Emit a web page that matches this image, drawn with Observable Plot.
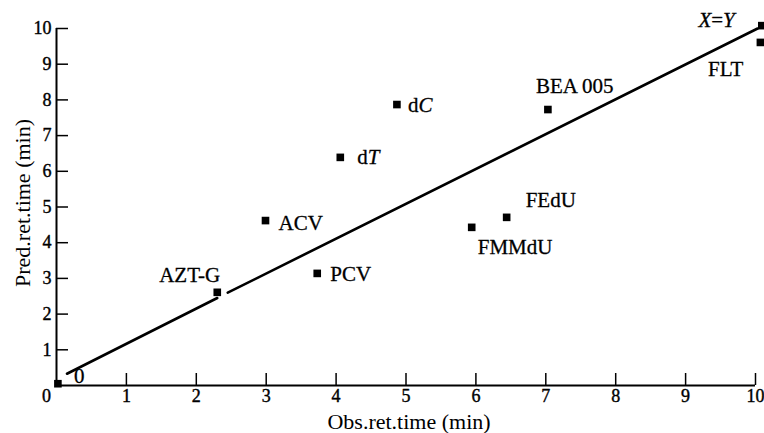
<!DOCTYPE html>
<html>
<head>
<meta charset="utf-8">
<script src="https://cdn.jsdelivr.net/npm/d3@7"></script>
<script src="https://cdn.jsdelivr.net/npm/@observablehq/plot@0.6"></script>
<style>
  html, body { margin: 0; padding: 0; background: #fff; }
  #chart { width: 764px; height: 433px; }
  #chart svg text { font-family: "Liberation Serif", "Times New Roman", serif; }
</style>
</head>
<body>
<div id="chart"></div>
<script>
// ---- data ----
const names     = ["0", "AZT-G", "ACV", "PCV", "dT", "dC", "FMMdU", "FEdU", "BEA 005", "X=Y", "FLT"];
const obsTime   = [0.02, 2.30, 2.99, 3.73, 4.06, 4.87, 5.94, 6.44, 7.03, 10.09, 10.07];
const predTime  = [0.05, 2.61, 4.62, 3.14, 6.39, 7.87, 4.43, 4.71, 7.73, 10.08, 9.61];

// X = Y reference line (drawn with a small gap near AZT-G)
const lineSeg = ["a", "a", "b", "b"];
const lineX   = [0.15, 2.30, 2.45, 10.03];
const lineY   = [0.33, 2.45, 2.60, 10.00];

const xTicks = [0, 1, 2, 3, 4, 5, 6, 7, 8, 9, 10];
const yTicks = [1, 2, 3, 4, 5, 6, 7, 8, 9, 10];
const xLabel = "Obs.ret.time (min)";
const yLabel = "Pred.ret.time (min)";

// ---- label placement (styling, pixels) ----
const placement = {
  "0":       {dx: 16, dy: -7,  anchor: "start"},
  "AZT-G":   {dx: 3,  dy: -17, anchor: "end"},
  "ACV":     {dx: 13, dy: 3,   anchor: "start"},
  "PCV":     {dx: 13, dy: 1,   anchor: "start"},
  "dT":      {dx: 17, dy: 0,   anchor: "start"},
  "dC":      {dx: 11, dy: 1,   anchor: "start"},
  "FMMdU":   {dx: 6,  dy: 20,  anchor: "start"},
  "FEdU":    {dx: 19, dy: -17, anchor: "start"},
  "BEA 005": {dx: -12, dy: -23, anchor: "start"},
  "X=Y":     {dx: -27, dy: -5, anchor: "end"},
  "FLT":     {dx: -17, dy: 27, anchor: "end"}
};

const idx = names.map((_, i) => i);
const lineIdx = lineSeg.map((_, i) => i);
const FONT = "Liberation Serif";

const labelMarks = idx.map(i => {
  const p = placement[names[i]];
  return Plot.text([i], {
    x: j => obsTime[j], y: j => predTime[j], text: j => names[j],
    dx: p.dx, dy: p.dy, textAnchor: p.anchor, fontFamily: FONT,
    fontSize: 21, fill: "black", stroke: "black", strokeWidth: 0.3
  });
});

const plot = Plot.plot({
  width: 764,
  height: 433,
  marginLeft: 56,
  marginRight: 9,
  marginTop: 28,
  marginBottom: 48,
  style: {fontFamily: FONT, fontSize: "18px", background: "#fff", color: "black", overflow: "hidden"},
  x: {domain: [0, 10], label: null},
  y: {domain: [0, 10], label: null},
  marks: [
    Plot.axisX({ticks: xTicks.filter(d => d > 0), tickSize: -12, tickPadding: 16, strokeWidth: 1.5,
                fontSize: 18, fontFamily: FONT, label: null, tickFormat: d => String(d),
                textStroke: "black", textStrokeWidth: 0.4}),
    Plot.axisX({ticks: [0], tickSize: 0, tickPadding: 4, dx: -10, fontSize: 18, fontFamily: FONT,
                label: null, tickFormat: d => String(d), textStroke: "black", textStrokeWidth: 0.4}),
    Plot.axisY({ticks: yTicks, tickSize: -12, tickPadding: 17, strokeWidth: 1.5,
                fontSize: 18, fontFamily: FONT, label: null, tickFormat: d => String(d),
                textStroke: "black", textStrokeWidth: 0.4}),
    Plot.ruleY([0], {stroke: "black", strokeWidth: 2}),
    Plot.ruleX([0], {stroke: "black", strokeWidth: 2}),
    Plot.line(lineIdx, {x: i => lineX[i], y: i => lineY[i], z: i => lineSeg[i],
                        stroke: "black", strokeWidth: 2.6}),
    Plot.dot(idx, {x: i => obsTime[i], y: i => predTime[i], symbol: "square",
                   r: 4.3, fill: "black", stroke: null}),
    ...labelMarks,
    Plot.text([xLabel], {frameAnchor: "bottom", lineAnchor: "middle", textAnchor: "middle",
                         dy: 36, dx: 3, fontSize: 22, fontFamily: FONT, fill: "black"}),
    Plot.text([yLabel], {frameAnchor: "left", lineAnchor: "middle", textAnchor: "middle",
                         dx: -34, dy: -4, rotate: -90, fontSize: 22, fontFamily: FONT, fill: "black"})
  ]
});

// italic parts of some labels
const italicMap = {"dC": [["d", false], ["C", true]], "dT": [["d", false], ["T", true]], "X=Y": [["X", true], ["=", false], ["Y", true]]};
plot.querySelectorAll("text").forEach(t => {
  const parts = italicMap[t.textContent];
  if (!parts) return;
  t.textContent = "";
  for (const [s, it] of parts) {
    const ts = document.createElementNS("http://www.w3.org/2000/svg", "tspan");
    ts.textContent = s;
    if (it) ts.setAttribute("font-style", "italic");
    t.appendChild(ts);
  }
});

document.getElementById("chart").appendChild(plot);
</script>
</body>
</html>
